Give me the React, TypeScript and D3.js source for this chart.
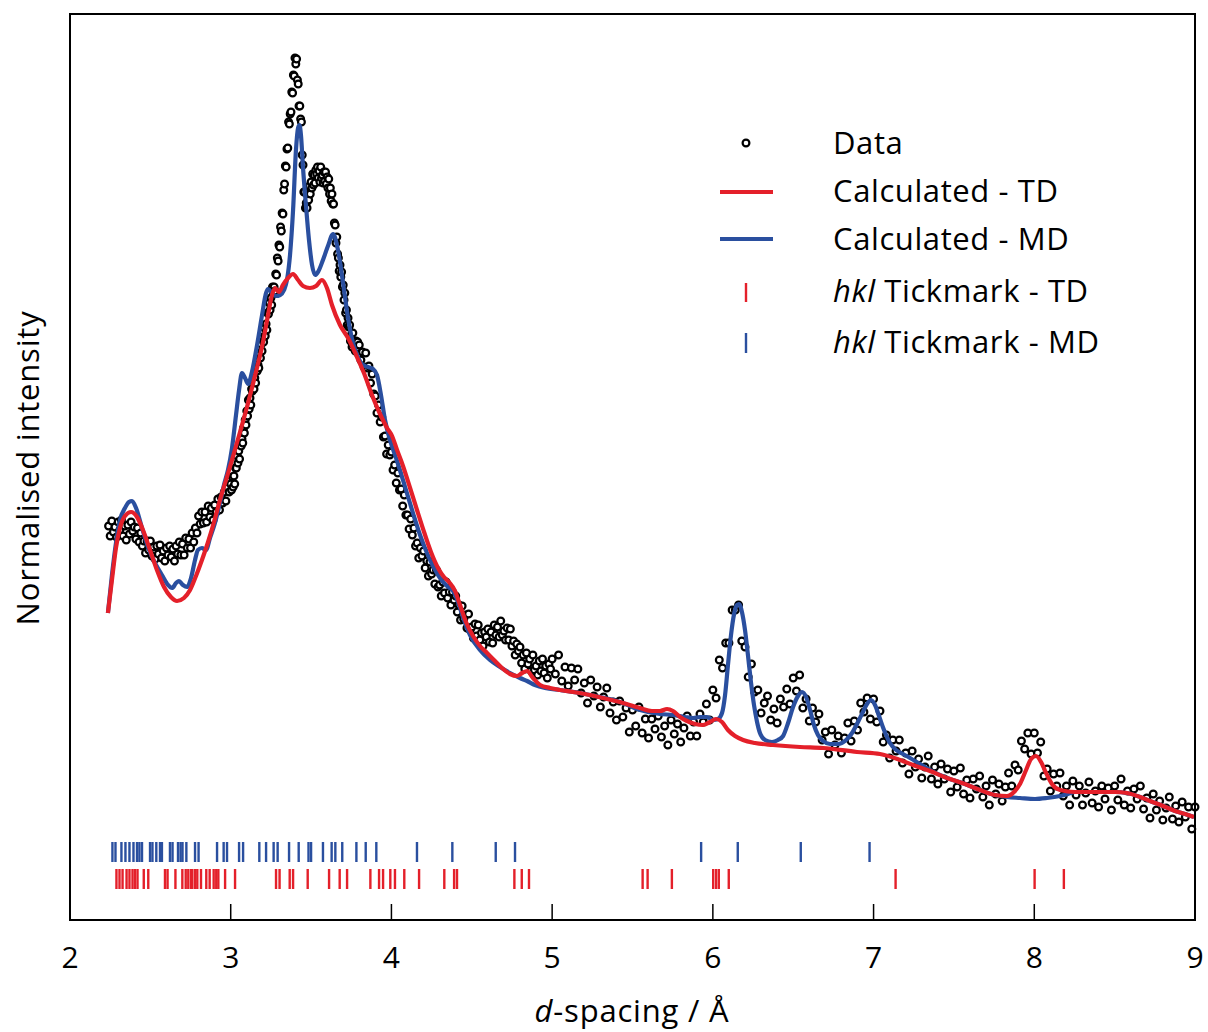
import React from 'react';
import * as d3 from 'd3';

// observed intensities (arbitrary units), sampled on fixed d-spacing grids
const seg1 = [394,384,399,388,393,383,398,390,400,384,394,380,395,386,398,389,393,381,392,378,387,374,379,367,379,370,379,364,373,361,374,366,375,362,369,359,372,365,374,363,371,359,374,366,378,365,376,365,382,372,381,372,387,378,392,387,404,396,408,397,408,398,414,403,412,400,415,408,421,410,423,417,428,419,432,428];
const seg2 = [436,430,443,433,444,436,452,452,464,457,469,461,479,474,481,477,492,487,500,495,509,504,520,511,522,515,531,529,539,531,542,537,555,549,555,552,566,562,576,569,583,578,592,584,596,590,607,606,617,610,622,615,633,626,633,629,646,645,662,659,675,673,693,689,707,706,730,736,754,753,771,772,798,796,806,808,828,827,845,844,862,856,861,840,836,814,814,801,798,765,755,728,728,712,717,712,725,720,734,726,738,732,746,735,745,737,750,746,753,742,749,738,753,742,745,737,748,739,748,736,743,732,741,726,732,719,726,716,716,697,695,677,683,666,662,649,655,643,648,633,635,620,627,607,610,595,602,593,595,579,585,573,587,575,577,569,579,569,578,566];
const seg3 = [575,560,568,553,567,552,554,537,546,526,524,507,515,498,503,483,484,466,475,465,468,450,455,437,447,430,431,414,425,405,405,391,401,385,392,374,377,362,372,364,369,352,359,344,358,346,350,336,350,333,335,324,338,327,338,322,328,315,328,320,324,308,315,300,314,301,305,292,306,290,293,282,296,284,295,280,287,274,288,283,291,278,288,277,295,285,293,283,299,285,289,280,292,280,291,274,279,265,276,269,273,257,265,251,267,256,261,249,265,250,254,245,259,249,261,247,254,242,256,251];
const seg4 = [261,246,265,239,253,234,252,240,251,227,237,217,240,224,233,213,223,232,207,218,200,219,203,212,188,210,194,213,187,201,182,201,191,204,183,194,175,200,186,196,178,192,204,184,198,184,206,198,216,200,230,222,260,252,277,277,310,310,315,279,273,243,256,228,230,207,217,224,200,211,197,221,213,231,216,242,229,245,212,221,199,212,198,206,180,188,166,190,175,184,167,182,197,179,199,190,217,208,222,201,221,198,209,178,185,162,180,169,180,157,167,146,169,153,161,142,153,164,141,153,136,156,141,151,128,149,133,152,126,140,122,141,131,144,123,134,115,140,126,136,119,133,147,134,155,150,179,171,187,166,187,167,178,144,151,129,146,134,147,124,134,115,139,125,134,115,127,138,117,129,113,134,121,132,110,134,120,141,115,129,112,131,121,134,111,122,102,126,110,119,100,112,123,101,114,98,118,103,113,91,113];

const segments = [
  { start: 2.24, step: 0.01, values: seg1 },
  { start: 3.0, step: 0.005, values: seg2 },
  { start: 3.8, step: 0.01, values: seg3 },
  { start: 5.0, step: 0.02, values: seg4 },
];

// calculated profiles [d, intensity]
const calcTD: [number, number][] = [[2.236,307],[2.261,340],[2.286,372],[2.311,392],[2.342,404],[2.380,408],[2.417,403],[2.454,390],[2.498,370],[2.541,350],[2.585,333],[2.628,323],[2.666,319],[2.709,322],[2.747,330],[2.784,344],[2.821,360],[2.859,378],[2.896,398],[2.933,420],[2.971,440],[3.008,460],[3.058,488],[3.108,517],[3.157,548],[3.201,578],[3.232,605],[3.257,625],[3.276,632],[3.300,628],[3.325,635],[3.357,642],[3.388,646],[3.419,640],[3.450,634],[3.493,632],[3.531,634],[3.568,640],[3.599,632],[3.630,615],[3.680,595],[3.730,582],[3.780,565],[3.829,547],[3.879,525],[3.929,506],[3.973,492],[4.004,484],[4.035,470],[4.072,454],[4.116,432],[4.159,410],[4.203,388],[4.246,368],[4.290,352],[4.327,343],[4.358,338],[4.396,329],[4.427,315],[4.464,298],[4.508,284],[4.551,274],[4.595,267],[4.638,260],[4.688,252],[4.738,246],[4.781,244],[4.813,247],[4.844,249],[4.881,242],[4.925,235],[4.987,232],[5.049,230],[5.130,228],[5.236,225],[5.341,221],[5.441,217],[5.547,212],[5.621,209],[5.671,209],[5.715,211],[5.752,209],[5.796,203],[5.839,199],[5.889,196],[5.939,195],[5.982,198],[6.020,201],[6.057,198],[6.094,190],[6.138,184],[6.188,180],[6.262,177],[6.374,175],[6.542,173],[6.686,172],[6.897,168],[7.040,166],[7.165,160],[7.246,155],[7.351,149],[7.457,142],[7.569,136],[7.662,130],[7.756,125],[7.830,124],[7.874,128],[7.911,136],[7.949,150],[7.980,161],[8.011,164],[8.042,158],[8.073,147],[8.110,136],[8.160,130],[8.254,128],[8.390,128],[8.502,128],[8.577,127],[8.658,123],[8.720,119],[8.801,114],[8.876,109],[8.938,106],[8.994,103]];

const calcMD: [number, number][] = [[2.236,307],[2.261,345],[2.286,377],[2.311,400],[2.342,412],[2.367,418],[2.386,419],[2.411,412],[2.448,392],[2.485,373],[2.529,357],[2.572,345],[2.610,335],[2.635,332],[2.660,337],[2.678,339],[2.703,335],[2.728,333],[2.753,342],[2.778,360],[2.796,370],[2.821,372],[2.846,370],[2.871,382],[2.902,397],[2.933,417],[2.958,435],[2.983,450],[3.008,472],[3.033,505],[3.052,530],[3.070,547],[3.089,542],[3.108,536],[3.132,548],[3.164,575],[3.195,605],[3.220,627],[3.232,631],[3.257,627],[3.282,624],[3.307,625],[3.332,630],[3.350,640],[3.369,665],[3.388,710],[3.406,770],[3.419,792],[3.428,795],[3.437,785],[3.450,752],[3.468,715],[3.487,680],[3.506,655],[3.525,645],[3.543,648],[3.574,660],[3.605,674],[3.637,686],[3.661,675],[3.680,658],[3.705,630],[3.730,602],[3.761,577],[3.792,563],[3.823,555],[3.854,553],[3.885,551],[3.910,545],[3.935,525],[3.960,500],[3.991,480],[4.035,459],[4.085,433],[4.134,407],[4.178,385],[4.221,367],[4.265,352],[4.302,342],[4.346,334],[4.383,329],[4.414,318],[4.445,303],[4.489,285],[4.551,270],[4.613,260],[4.676,253],[4.738,247],[4.800,242],[4.844,239],[4.893,235],[4.956,232],[5.049,230],[5.173,227],[5.298,223],[5.422,218],[5.547,210],[5.671,206],[5.752,205],[5.827,203],[5.877,202],[5.920,203],[5.964,203],[6.001,200],[6.032,201],[6.057,207],[6.076,225],[6.094,255],[6.113,285],[6.132,306],[6.150,315],[6.163,316],[6.181,308],[6.200,290],[6.219,264],[6.237,238],[6.256,215],[6.275,198],[6.293,187],[6.325,180],[6.368,178],[6.405,180],[6.437,184],[6.468,197],[6.499,213],[6.530,224],[6.555,228],[6.580,223],[6.605,210],[6.629,195],[6.654,185],[6.686,179],[6.729,176],[6.779,176],[6.829,180],[6.866,187],[6.903,198],[6.934,208],[6.959,216],[6.984,220],[7.009,215],[7.034,204],[7.065,190],[7.102,177],[7.140,170],[7.183,166],[7.227,162],[7.289,156],[7.351,150],[7.457,142],[7.569,136],[7.662,130],[7.756,125],[7.830,123],[7.911,122],[8.005,121],[8.079,122],[8.160,124],[8.210,126],[8.254,128],[8.390,128],[8.502,128],[8.577,127],[8.658,123],[8.720,119],[8.801,114],[8.876,109],[8.938,106],[8.994,103]];

// reflection positions
const hklMD = [2.264,2.283,2.320,2.345,2.370,2.395,2.417,2.432,2.448,2.498,2.513,2.537,2.560,2.572,2.622,2.638,2.672,2.688,2.700,2.724,2.778,2.800,2.915,2.956,2.977,3.052,3.077,3.178,3.220,3.267,3.292,3.363,3.423,3.484,3.500,3.574,3.628,3.651,3.694,3.782,3.840,3.906,4.159,4.379,4.649,4.769,5.927,6.155,6.547,6.975];
const hklTD = [2.289,2.308,2.327,2.352,2.370,2.389,2.404,2.420,2.459,2.487,2.591,2.607,2.656,2.699,2.720,2.736,2.753,2.761,2.778,2.792,2.815,2.848,2.869,2.894,2.910,2.923,2.965,3.027,3.282,3.304,3.367,3.388,3.479,3.612,3.678,3.724,3.869,3.923,3.948,3.993,4.022,4.080,4.172,4.329,4.390,4.408,4.765,4.811,4.856,5.563,5.594,5.745,6.002,6.020,6.037,6.099,7.137,8.002,8.184];

const xTicks = [2, 3, 4, 5, 6, 7, 8, 9];

const RED = '#e4202a';
const BLUE = '#2a4f9f';
const FONT = "'Open Sans', sans-serif";

export default function App() {
  const W = 1208, H = 1032;
  const left = 70, right = 1195, top = 14, bottom = 920;

  const x = d3.scaleLinear().domain([2, 9]).range([left, right]);
  const y = d3.scaleLinear().domain([0, 906]).range([bottom, top]);

  const points = segments.flatMap(s => s.values.map((v, i) => [s.start + i * s.step, v]));

  const line = d3.line<[number, number]>()
    .x(d => x(d[0]))
    .y(d => y(d[1]))
    .curve(d3.curveMonotoneX);

  const legendX = 833;
  const legendRows = [
    { y: 154, label: 'Data' },
    { y: 202, label: 'Calculated - TD' },
    { y: 250, label: 'Calculated - MD' },
    { y: 302, label: 'Tickmark - TD', italic: 'hkl' },
    { y: 353, label: 'Tickmark - MD', italic: 'hkl' },
  ];

  return (
    <svg width={W} height={H} style={{ position: 'absolute', left: 0, top: 0, background: '#fff' }}
      fontFamily={FONT}>
      <rect x={0} y={0} width={W} height={H} fill="#fff" />

      {/* hkl tick marks */}
      <g strokeWidth={2.4}>
        {hklMD.map((d, i) => (
          <line key={'m' + i} x1={x(d)} x2={x(d)} y1={842} y2={862} stroke={BLUE} />
        ))}
        {hklTD.map((d, i) => (
          <line key={'t' + i} x1={x(d)} x2={x(d)} y1={869} y2={889} stroke={RED} />
        ))}
      </g>

      {/* data */}
      <g fill="#fff" stroke="#000" strokeWidth={2.2}>
        {points.map((p, i) => (
          <circle key={i} cx={x(p[0])} cy={y(p[1])} r={3.4} />
        ))}
      </g>

      <path d={line(calcMD) || ''} fill="none" stroke={BLUE} strokeWidth={4.2} strokeLinejoin="round" />
      <path d={line(calcTD) || ''} fill="none" stroke={RED} strokeWidth={4.2} strokeLinejoin="round" />

      {/* frame and axis */}
      <rect x={left} y={top} width={right - left} height={bottom - top} fill="none" stroke="#000" strokeWidth={2} />
      {xTicks.map(t => (
        <g key={t}>
          <line x1={x(t)} x2={x(t)} y1={bottom} y2={bottom - 16} stroke="#000" strokeWidth={1.5} />
          <text x={x(t)} y={968} textAnchor="middle" fontSize={30} fill="#000">{t}</text>
        </g>
      ))}
      <text x={632} y={1022} textAnchor="middle" fontSize={31} letterSpacing={0.8} fill="#000">
        <tspan fontStyle="italic">d</tspan>-spacing / Å
      </text>
      <text transform="translate(39,468) rotate(-90)" textAnchor="middle" fontSize={31} letterSpacing={0.8} fill="#000">
        Normalised intensity
      </text>

      {/* legend */}
      <circle cx={746} cy={143} r={3.4} fill="#fff" stroke="#000" strokeWidth={2.2} />
      <line x1={720} x2={773} y1={192} y2={192} stroke={RED} strokeWidth={4.2} />
      <line x1={720} x2={773} y1={239} y2={239} stroke={BLUE} strokeWidth={4.2} />
      <line x1={746} x2={746} y1={283} y2={302} stroke={RED} strokeWidth={2.4} />
      <line x1={746} x2={746} y1={333} y2={353} stroke={BLUE} strokeWidth={2.4} />
      {legendRows.map(r => (
        <text key={r.label + r.y} x={legendX} y={r.y} fontSize={31} letterSpacing={0.6} fill="#000">
          {r.italic && <tspan fontStyle="italic">{r.italic} </tspan>}
          {r.label}
        </text>
      ))}
    </svg>
  );
}
